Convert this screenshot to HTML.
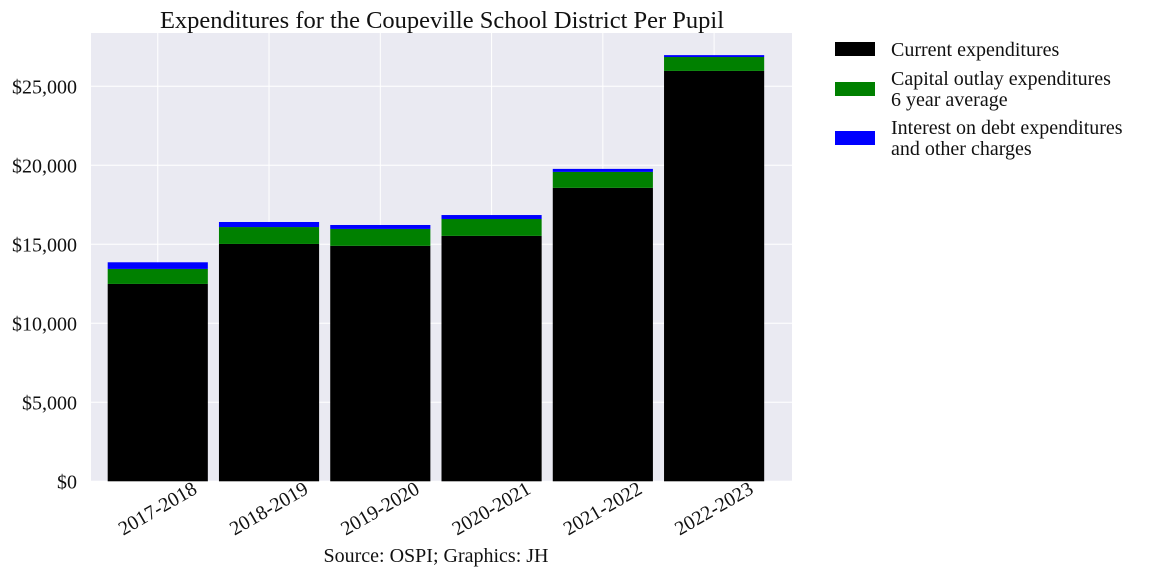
<!DOCTYPE html>
<html><head><meta charset="utf-8"><style>
body{margin:0;background:#fff;}
svg{font-family:"Liberation Serif",serif;}
</style></head><body>
<svg id="chart" width="1152" height="576" viewBox="0 0 1152 576">
<rect x="91" y="33" width="701" height="448" fill="#eaeaf2"/>
<g id="grid"></g>
<g id="bars"></g>
<g id="yticks"></g>
<g id="xticks"></g>
<text x="442" y="28" font-size="24.5" text-anchor="middle" fill="#111">Expenditures for the Coupeville School District Per Pupil</text>
<text x="436" y="562" font-size="20" text-anchor="middle" fill="#111">Source: OSPI; Graphics: JH</text>
<g font-size="20" fill="#111">
<rect x="835" y="42" width="40" height="14" fill="#000"/>
<text x="891" y="56">Current expenditures</text>
<rect x="835" y="82" width="40" height="14" fill="#008000"/>
<text x="891" y="85">Capital outlay expenditures</text>
<text x="891" y="106">6 year average</text>
<rect x="835" y="131" width="40" height="14" fill="#0000ff"/>
<text x="891" y="134">Interest on debt expenditures</text>
<text x="891" y="155">and other charges</text>
</g>
</svg>
<script>
const categories = ["2017-2018","2018-2019","2019-2020","2020-2021","2021-2022","2022-2023"];
const current = [12490, 15020, 14900, 15530, 18570, 25970];
const capital = [950, 1070, 1070, 1070, 1010, 880];
const interest = [420, 320, 250, 250, 190, 120];
const yTicks = [0, 5000, 10000, 15000, 20000, 25000];
const yTickLabels = ["$0","$5,000","$10,000","$15,000","$20,000","$25,000"];

const NS = "http://www.w3.org/2000/svg";
const X0 = 91, X1 = 792, Y0 = 481.3, YT = 33;
const xMin = -0.6, xMax = 5.7, yMax = 28370;
const xs = i => X0 + (i - xMin) / (xMax - xMin) * (X1 - X0);
const ys = v => Y0 - v / yMax * (Y0 - YT);
const bw = 0.9 * (xs(1) - xs(0));
function mk(tag, attrs, parent){const e=document.createElementNS(NS,tag);for(const k in attrs)e.setAttribute(k,attrs[k]);parent.appendChild(e);return e;}
const grid=document.getElementById('grid'), bars=document.getElementById('bars'), yt=document.getElementById('yticks'), xt=document.getElementById('xticks');
yTicks.forEach((v,i)=>{
  const l=mk('line',{x1:X0,x2:X1,y1:ys(v),y2:ys(v),stroke:'#fff','stroke-width':1},grid);
  
  
  const t=mk('text',{x:77,y:ys(v)+7,'font-size':20,'text-anchor':'end',fill:'#111'},yt);
  t.textContent=yTickLabels[i];
  
  
});
categories.forEach((c,i)=>{
  const l=mk('line',{x1:xs(i),x2:xs(i),y1:YT,y2:Y0,stroke:'#fff','stroke-width':1},grid);
  
  
  const x=xs(i)-bw/2;
  const b1=mk('rect',{x:x,width:bw,y:ys(current[i]),height:ys(0)-ys(current[i]),fill:'#000'},bars);
  
  
  const s2=current[i]+capital[i];
  const b2=mk('rect',{x:x,width:bw,y:ys(s2),height:ys(current[i])-ys(s2),fill:'#008000'},bars);
  
  
  const s3=s2+interest[i];
  const b3=mk('rect',{x:x,width:bw,y:ys(s3),height:ys(s2)-ys(s3),fill:'#0000ff'},bars);
  
  
  const t=mk('text',{x:xs(i),y:509,'font-size':20,'text-anchor':'middle','dominant-baseline':'central',fill:'#111',transform:`rotate(-30 ${xs(i)} 509)`},xt);
  t.textContent=c;
  
  
});
</script>
</body></html>
